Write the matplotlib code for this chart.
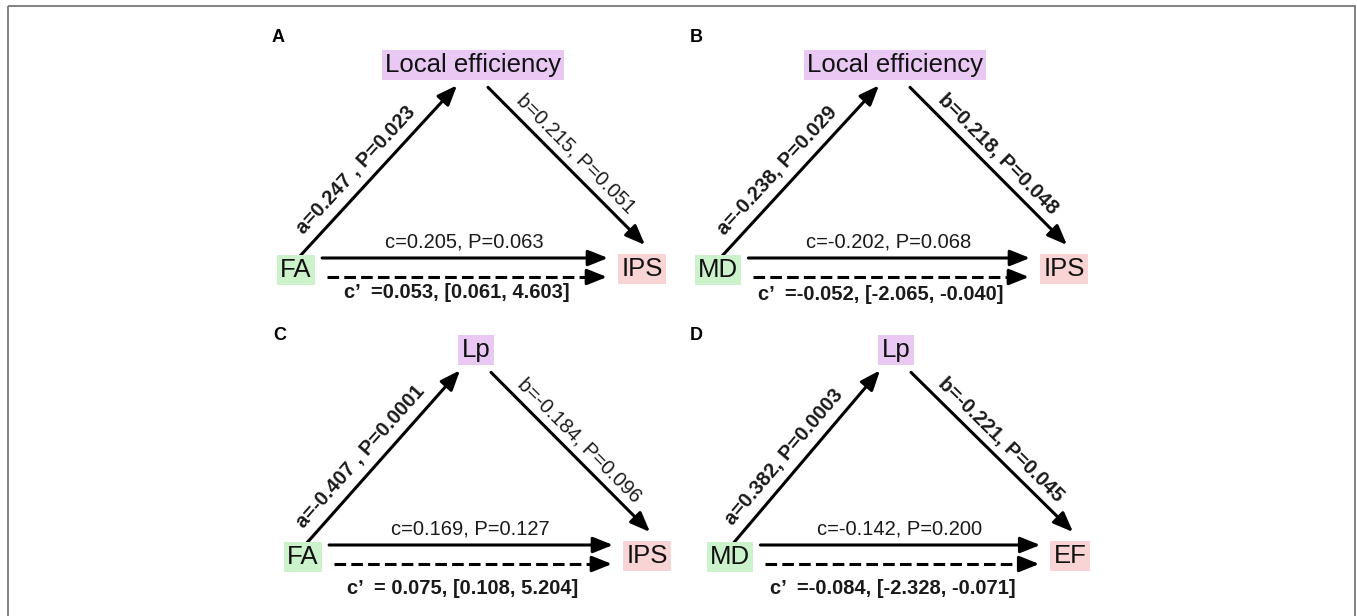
import math
import matplotlib
matplotlib.use("Agg")
import matplotlib.pyplot as plt
from matplotlib.patches import FancyArrowPatch, Rectangle

plt.rcParams['font.family'] = ['Liberation Sans', 'DejaVu Sans']

# ---- chart content ----
panel_letters = ['A', 'B', 'C', 'D']
predictors = ['FA', 'MD', 'FA', 'MD']
mediators = ['Local efficiency', 'Local efficiency', 'Lp', 'Lp']
outcomes = ['IPS', 'IPS', 'IPS', 'EF']
a_labels = ['a=0.247 , P=0.023', 'a=-0.238, P=0.029',
            'a=-0.407 , P=0.0001', 'a=0.382, P=0.0003']
b_labels = ['b=0.215, P=0.051', 'b=0.218, P=0.048',
            'b=-0.184, P=0.096', 'b=-0.221, P=0.045']
b_bold = [False, True, False, True]
c_labels = ['c=0.205, P=0.063', 'c=-0.202, P=0.068',
            'c=0.169, P=0.127', 'c=-0.142, P=0.200']
cp_labels = ['c\u2019  =0.053, [0.061, 4.603]', 'c\u2019  =-0.052, [-2.065, -0.040]',
             'c\u2019  = 0.075, [0.108, 5.204]', 'c\u2019  =-0.084, [-2.328, -0.071]']

# ---- layout (pixel positions of node centres) ----
letter_pos = [(278, 37), (696, 37), (280, 335), (696, 335)]
x_pos = [(296, 270), (718, 270), (303, 557), (730, 557)]
m_pos = [(473, 65), (895, 65), (476, 350), (896, 350)]
y_pos = [(642, 269), (1064, 269), (647, 556), (1070, 556)]
cp_y = [293, 295, 588, 588]

col_x = '#CCF2CC'
col_m = '#E9C9F3'
col_y = '#F8D4D4'
txt_col = '#111111'
lab_col = '#1a1a1a'

W, H = 1357, 616
fig = plt.figure(figsize=(W / 100, H / 100), dpi=100)
ax = fig.add_axes([0, 0, 1, 1])
ax.set_xlim(0, W)
ax.set_ylim(H, 0)
ax.axis('off')

ax.add_patch(Rectangle((8, 6), W - 10, H + 10, fill=False, ec='#777777', lw=1.3))

NODE_FS = 18.5
LAB_FS = 14.5


def node(p, s, c):
    return ax.text(p[0], p[1], s, ha='center', va='center', fontsize=NODE_FS,
                   color=txt_col,
                   bbox=dict(boxstyle='square,pad=0.13', fc=c, ec='none'))


def arrow(p1, p2):
    ax.add_patch(FancyArrowPatch(p1, p2, arrowstyle='-|>,head_length=12,head_width=4.8',
                                 mutation_scale=1, lw=2.2, color='black',
                                 shrinkA=0, shrinkB=0))


def dashed_arrow(p1, p2):
    ax.plot([p1[0], p2[0] - 12], [p1[1], p2[1]], color='black', lw=2.2,
            linestyle=(0, (3.8, 1.7)))
    ax.add_patch(FancyArrowPatch((p2[0] - 14, p2[1]), p2,
                                 arrowstyle='-|>,head_length=12,head_width=4.8',
                                 mutation_scale=1, lw=2.2, color='black',
                                 shrinkA=0, shrinkB=0))


def edge_label(p1, p2, s, normal, along, bold):
    dx, dy = p2[0] - p1[0], p2[1] - p1[1]
    L = math.hypot(dx, dy)
    ux, uy = dx / L, dy / L
    nx, ny = uy, -ux
    mx, my = (p1[0] + p2[0]) / 2, (p1[1] + p2[1]) / 2
    px = mx + normal * nx + along * ux
    py = my + normal * ny + along * uy
    ang = math.degrees(math.atan2(-dy, dx))
    ax.text(px, py, s, ha='center', va='center', rotation=ang,
            rotation_mode='anchor', fontsize=LAB_FS, color=lab_col,
            fontweight='bold' if bold else 'normal')


nodes = []
for i in range(4):
    ax.text(letter_pos[i][0], letter_pos[i][1], panel_letters[i], ha='center',
            va='center', fontsize=13, fontweight='bold', color='black')
    tx = node(x_pos[i], predictors[i], col_x)
    tm = node(m_pos[i], mediators[i], col_m)
    ty = node(y_pos[i], outcomes[i], col_y)
    nodes.append((tx, tm, ty))

fig.canvas.draw()
inv = ax.transData.inverted()


def extent(t):
    bb = t.get_bbox_patch().get_window_extent()
    (x0, y0), (x1, y1) = inv.transform([(bb.x0, bb.y0), (bb.x1, bb.y1)])
    return min(x0, x1), max(x0, x1), min(y0, y1), max(y0, y1)


for i in range(4):
    tx, tm, ty = nodes[i]
    xl, xr, xt, xb = extent(tx)
    ml, mr, mt, mb = extent(tm)
    yl, yr, yt, yb = extent(ty)
    xc, yc = x_pos[i]
    mc, mcy = m_pos[i]
    oc, ocy = y_pos[i]

    a1 = (xc - 3, xt + 9)
    a2 = (mc - 16, mb + 5)
    arrow(a1, a2)
    edge_label(a1, a2, a_labels[i], 17, -10, True)

    b1 = (mc + 15, mb + 7)
    b2 = (oc + 3, ocy - 24)
    arrow(b1, b2)
    edge_label(b1, b2, b_labels[i], 15, -2, b_bold[i])

    cy = yc - 12
    c1 = (xr + 7, cy)
    c2 = (yl - 10, cy)
    arrow(c1, c2)
    ax.text((c1[0] + c2[0]) / 2 - 1, cy - 16, c_labels[i], ha='center', va='center',
            fontsize=LAB_FS, color=lab_col)

    dy_ = yc + 7
    d1 = (xr + 12, dy_)
    d2 = (yl - 11, dy_)
    dashed_arrow(d1, d2)
    ax.text((d1[0] + d2[0]) / 2 - 10, cp_y[i], cp_labels[i], ha='center', va='center',
            fontsize=LAB_FS, color=lab_col, fontweight='bold')

fig.savefig('out.png', dpi=100)
